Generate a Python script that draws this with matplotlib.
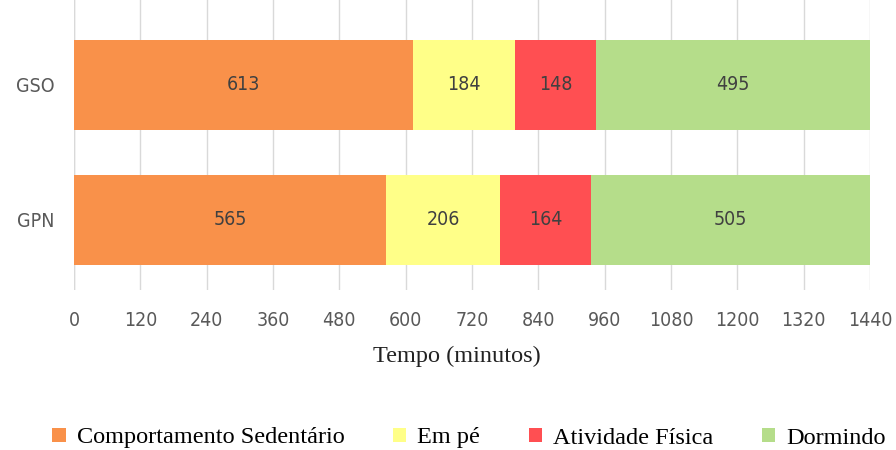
import matplotlib
matplotlib.use("Agg")
import matplotlib.pyplot as plt
from matplotlib.patches import Patch

groups = ["GPN", "GSO"]
categories = ["Comportamento Sedentário", "Em pé", "Atividade Física", "Dormindo"]
values = {
    "Comportamento Sedentário": [565, 613],
    "Em pé": [206, 184],
    "Atividade Física": [164, 148],
    "Dormindo": [505, 495],
}
colors = ["#F9914A", "#FFFF88", "#FF4F52", "#B5DD8A"]
xticks = list(range(0, 1441, 120))

sans = ["DejaVu Sans"]
serif = ["Liberation Serif", "DejaVu Serif"]

fig = plt.figure(figsize=(8.96, 4.5), dpi=100)
ax = fig.add_axes([74 / 896, 1 - 290 / 450, (870 - 74) / 896, 290 / 450])

ypos = list(range(len(groups)))
left = [0] * len(groups)
for cat, col in zip(categories, colors):
    vals = values[cat]
    ax.barh(ypos, vals, left=left, height=0.667, color=col, zorder=2)
    for y, l, v in zip(ypos, left, vals):
        ax.text(l + v / 2, y, str(v), ha="center", va="center", fontstretch="condensed",
                fontsize=14, color="#404040", family=sans, zorder=3)
    left = [a + b for a, b in zip(left, vals)]

ax.set_xlim(0, 1440)
ax.set_ylim(-0.52, 1.63)
ax.set_xticks(xticks)
ax.set_xticklabels([str(t) for t in xticks], family=sans, fontsize=14,
                   color="#595959", fontstretch="condensed")
ax.set_yticks(ypos)
ax.set_yticklabels(groups, family=sans, fontsize=14, color="#595959",
                   fontstretch="condensed")
ax.tick_params(axis="x", length=0, pad=15)
ax.tick_params(axis="y", length=0, pad=14)
ax.grid(axis="x", color="#D9D9D9", linewidth=1, zorder=0)
for s in ax.spines.values():
    s.set_visible(False)
ax.axvline(0, color="#D9D9D9", linewidth=1, zorder=1)

fig.text(457 / 896, 1 - 356 / 450, "Tempo (minutos)", ha="center",
         va="center", family=serif, fontsize=17.5, color="#222222")

handles = [Patch(facecolor=c, edgecolor="none") for c in colors]
fig.legend(handles, categories, loc="center", bbox_to_anchor=(469 / 896, 1 - 438 / 450),
           ncol=4, frameon=False, prop={"family": serif, "size": 17.5},
           handlelength=0.55, handleheight=0.55, handletextpad=0.45, columnspacing=2.0)

fig.savefig("out.png", dpi=100)
